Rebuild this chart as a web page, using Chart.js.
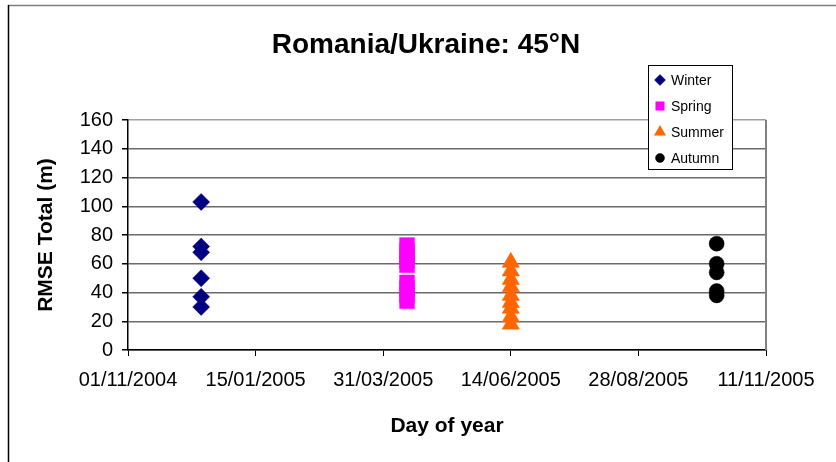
<!DOCTYPE html>
<html>
<head>
<meta charset="utf-8">
<script src="https://cdn.jsdelivr.net/npm/chart.js@4/dist/chart.umd.min.js"></script>
<style>
  body { margin: 0; background: #fff; }
  #graph-container { width: 836px; height: 462px; }
</style>
</head>
<body>
<div id="graph-container"><canvas id="graphiqueRmse"></canvas></div>
<script>
// valeurs
var seasons = ['Winter', 'Spring', 'Summer', 'Autumn'];
var seasonDates = ['2004-12-14', '2005-04-14', '2005-06-14', '2005-10-13'];
var winterRmse = [103, 72, 68, 50, 37, 30];
var springRmse = [73, 69, 65, 62, 59, 47, 43, 38, 34];
var summerRmse = [61, 55, 49, 44, 38, 33, 29, 23, 18];
var autumnRmse = [74, 60, 54, 41, 38];
var xTickLabels = ['01/11/2004', '15/01/2005', '31/03/2005', '14/06/2005', '28/08/2005', '11/11/2005'];
var startDate = '2004-11-01';

var colors = ['#000080', '#FF00FF', '#FF6600', '#000000'];
var styles = ['rectRot', 'rect', 'triangle', 'circle'];
var radii = [8.5, 10.5, 10, 7.5];

// jours depuis le 01/11/2004
function dayOf(s) {
    return Math.round((Date.parse(s) - Date.parse(startDate)) / 86400000);
}

var allValues = [winterRmse, springRmse, summerRmse, autumnRmse];
var datasets = seasons.map(function(name, i) {
    return {
        label: name,
        data: allValues[i].map(function(v) { return { x: dayOf(seasonDates[i]), y: v }; }),
        backgroundColor: colors[i],
        borderColor: colors[i],
        pointStyle: styles[i],
        pointRadius: radii[i],
        pointBorderWidth: 0.5
    };
});

// cadre, titre, bordure droite et légende dessinés à la main
var extras = {
    id: 'extras',
    afterDraw: function(chart) {
        var ctx = chart.ctx;
        var a = chart.chartArea;
        ctx.save();
        // cadre extérieur
        ctx.lineWidth = 1.5;
        ctx.strokeStyle = '#808080';
        ctx.beginPath(); ctx.moveTo(8, 5.5); ctx.lineTo(836, 5.5); ctx.stroke();
        ctx.strokeStyle = '#000';
        ctx.beginPath(); ctx.moveTo(8.5, 5); ctx.lineTo(8.5, 462); ctx.stroke();
        // titre
        ctx.fillStyle = '#000';
        ctx.font = 'bold 28px "Liberation Sans", Arial, sans-serif';
        ctx.textAlign = 'center';
        ctx.textBaseline = 'middle';
        ctx.fillText('Romania/Ukraine: 45°N', 426, 45);
        ctx.textAlign = 'left';
        // bordure droite de la zone de tracé
        ctx.strokeStyle = '#808080';
        ctx.lineWidth = 2;
        ctx.beginPath(); ctx.moveTo(a.right, a.top); ctx.lineTo(a.right, a.bottom); ctx.stroke();
        // légende
        ctx.fillStyle = '#fff';
        ctx.fillRect(648, 65, 84, 104);
        ctx.strokeStyle = '#000';
        ctx.lineWidth = 1;
        ctx.strokeRect(648.5, 65.5, 84, 104);
        var rows = [80, 106, 132, 158];
        var legendRadius = [5.5, 6, 6.5, 4.5];
        ctx.font = '14px "Liberation Sans", Arial, sans-serif';
        seasons.forEach(function(name, i) {
            ctx.fillStyle = colors[i];
            ctx.strokeStyle = colors[i];
            ctx.lineWidth = 0.5;
            Chart.helpers.drawPoint(ctx, { pointStyle: styles[i], radius: legendRadius[i], borderWidth: 0.5, rotation: 0 }, 660, rows[i]);
            ctx.fillStyle = '#000';
            ctx.fillText(name, 671, rows[i] + 1);
        });
        ctx.restore();
    }
};

var ctx = document.getElementById('graphiqueRmse').getContext('2d');
var chart = new Chart(ctx, {
    type: 'scatter',
    data: { datasets: datasets },
    plugins: [extras],
    options: {
        responsive: true,
        maintainAspectRatio: false,
        animation: false,
        events: [],
        layout: { padding: { left: 0, right: 70, top: 120, bottom: 0 } },
        plugins: {
            legend: { display: false },
            tooltip: { enabled: false },
            title: { display: false }
        },
        scales: {
            x: {
                type: 'linear',
                min: 0,
                max: 375,
                afterFit: function(scale) { scale.height = 112; },
                afterBuildTicks: function(scale) {
                    scale.ticks = xTickLabels.map(function(l, i) { return { value: i * 75 }; });
                },
                ticks: {
                    color: '#000',
                    padding: 12,
                    maxRotation: 0,
                    autoSkip: false,
                    font: { family: '"Liberation Sans", Arial, sans-serif', size: 20 },
                    callback: function(v, i) { return xTickLabels[i]; }
                },
                grid: { drawOnChartArea: false, drawTicks: true, tickLength: 6, tickColor: '#000' },
                border: { color: '#000', width: 1.5 },
                title: {
                    display: true,
                    text: 'Day of year',
                    color: '#000',
                    font: { family: '"Liberation Sans", Arial, sans-serif', size: 21, weight: 'bold' },
                    padding: { top: 0, bottom: 23 }
                }
            },
            y: {
                min: 0,
                max: 160,
                afterFit: function(scale) { scale.width = 128; },
                ticks: {
                    stepSize: 20,
                    color: '#000',
                    padding: 9,
                    font: { family: '"Liberation Sans", Arial, sans-serif', size: 20 }
                },
                grid: {
                    tickLength: 6,
                    tickColor: '#000',
                    lineWidth: 1.5,
                    color: function(c) { return c.tick && c.tick.value === 160 ? '#a0a0a0' : '#6a6a6a'; }
                },
                border: { color: '#000', width: 1.5 },
                title: {
                    display: true,
                    text: 'RMSE Total (m)',
                    color: '#000',
                    font: { family: '"Liberation Sans", Arial, sans-serif', size: 21, weight: 'bold' },
                    padding: { top: 34, bottom: 0 }
                }
            }
        }
    }
});
</script>
</body>
</html>
